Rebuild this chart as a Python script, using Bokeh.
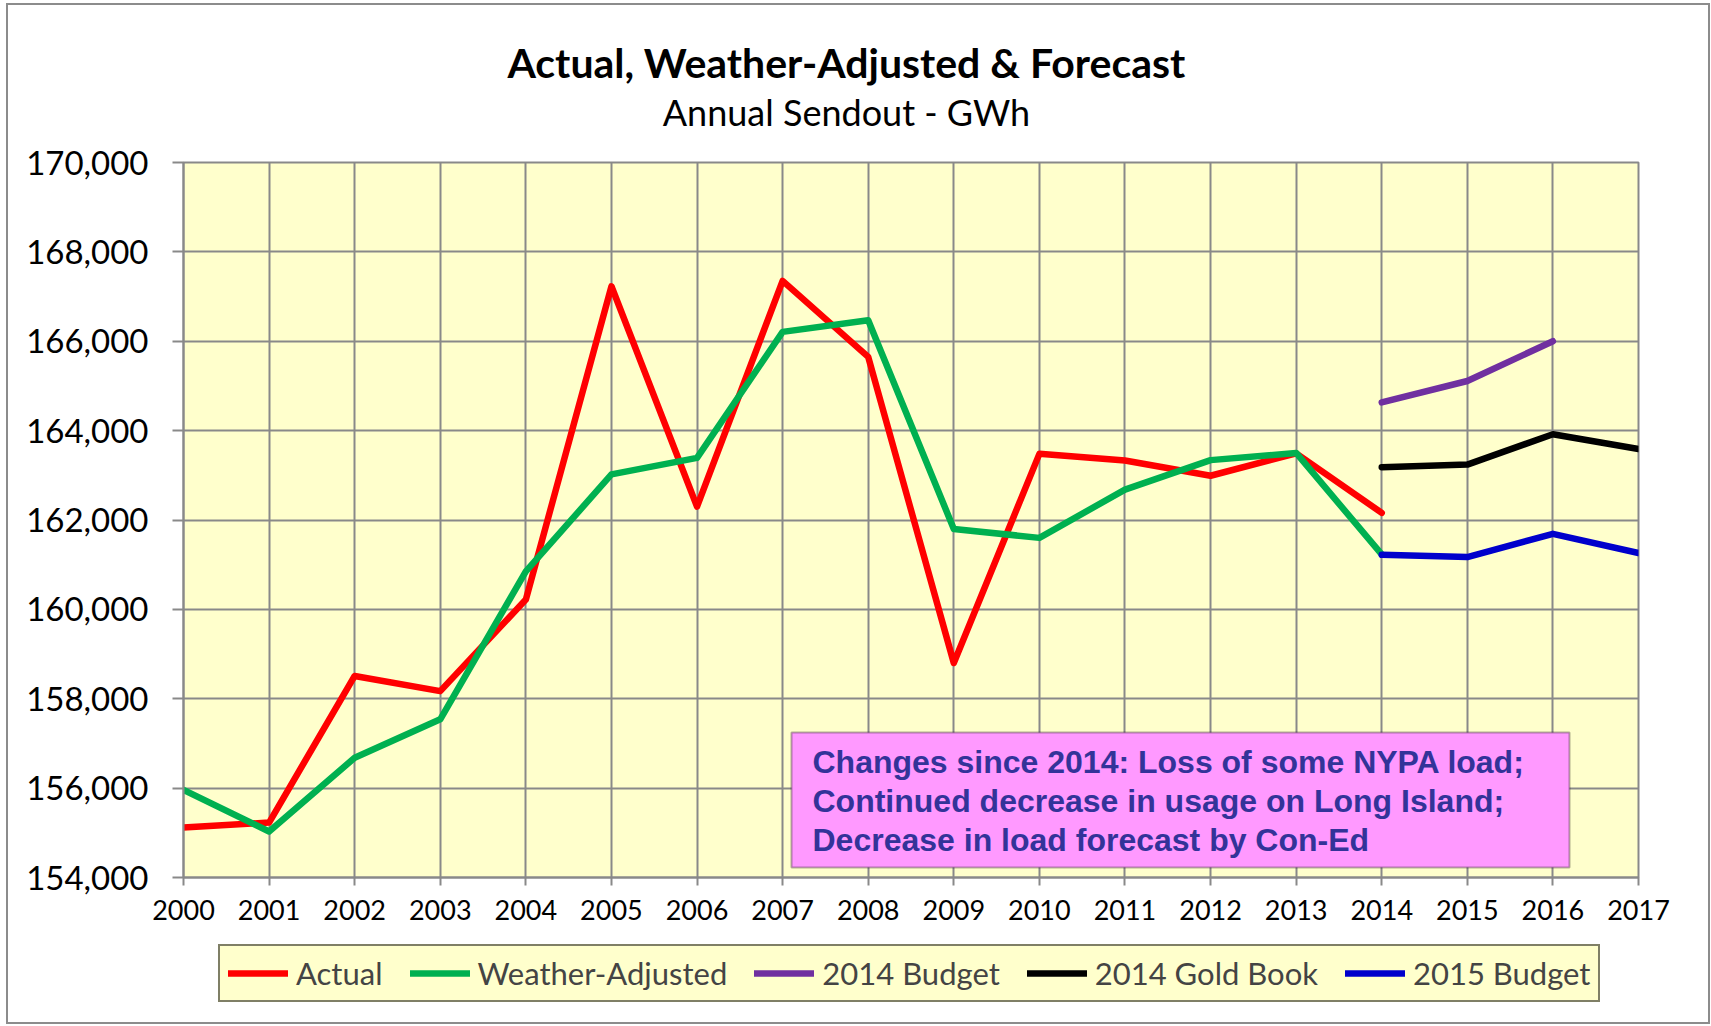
from bokeh.plotting import figure
from bokeh.layouts import column
from bokeh.models import (FixedTicker, NumeralTickFormatter, PrintfTickFormatter, Legend,
                          LegendItem, Label, BoxAnnotation, Range1d)
from bokeh.embed import file_html
from bokeh.resources import INLINE

# ---------------- data ----------------
years_hist = [2000, 2001, 2002, 2003, 2004, 2005, 2006, 2007, 2008, 2009, 2010, 2011, 2012, 2013, 2014]
actual = [155120, 155230, 158510, 158170, 160220, 167230, 162300, 167350, 165650, 158800,
          163480, 163330, 162990, 163490, 162160]
weather_adjusted = [155960, 155030, 156680, 157540, 160850, 163020, 163390, 166210, 166470, 161800,
                    161600, 162680, 163340, 163500, 161230]
years_b14 = [2014, 2015, 2016]
budget_2014 = [164630, 165110, 166000]
years_fc = [2014, 2015, 2016, 2017]
gold_book_2014 = [163180, 163240, 163920, 163590]
budget_2015 = [161220, 161170, 161690, 161260]

x_ticks = list(range(2000, 2018))
y_ticks = list(range(154000, 170001, 2000))

series_names = ["Actual", "Weather-Adjusted", "2014 Budget", "2014 Gold Book", "2015 Budget"]
series_colors = ["#FF0000", "#00B050", "#7030A0", "#000000", "#0000CC"]
series_data = [(years_hist, actual), (years_hist, weather_adjusted), (years_b14, budget_2014),
               (years_fc, gold_book_2014), (years_fc, budget_2015)]

title_text = "Actual, Weather-Adjusted & Forecast"
subtitle_text = "Annual Sendout - GWh"
note_lines = ["Changes since 2014: Loss of some NYPA load;",
              "Continued decrease in usage on Long Island;",
              "Decrease in load forecast by Con-Ed"]

FONT = "Lato"
GRID = "#898989"
W = 1700
LW = 6.5

# ---------------- title strip (frame is aligned with the main chart's frame) ----------------
pt = figure(width=W, height=137, output_backend="svg", toolbar_location=None,
            x_range=Range1d(0, 1), y_range=Range1d(0, 1), x_axis_type=None, y_axis_type=None,
            min_border=0, title=None)
pt.outline_line_color = None
pt.background_fill_color = "white"
pt.border_fill_color = "white"
pt.add_layout(Label(x=663, y=80, x_units="screen", y_units="screen", text=title_text,
                    text_font=FONT, text_font_style="bold", text_font_size="41px",
                    text_align="center", text_baseline="middle", text_color="black"))
pt.add_layout(Label(x=663, y=31, x_units="screen", y_units="screen", text=subtitle_text,
                    text_font=FONT, text_font_size="36px",
                    text_align="center", text_baseline="middle", text_color="black"))

# ---------------- main chart ----------------
p = figure(frame_width=1455, frame_height=715, output_backend="svg", toolbar_location=None,
           x_range=Range1d(2000, 2017), y_range=Range1d(154000, 170000),
           min_border_left=175, min_border_right=70, min_border_top=20, min_border_bottom=60,
           title=None)
p.background_fill_color = "#FFFFCC"
p.border_fill_color = "white"
p.outline_line_color = GRID
p.outline_line_width = 2

p.xaxis.ticker = FixedTicker(ticks=x_ticks)
p.xaxis.formatter = PrintfTickFormatter(format="%d")
p.yaxis.ticker = FixedTicker(ticks=y_ticks)
p.yaxis.formatter = NumeralTickFormatter(format="0,0")
for ax in (p.xaxis[0], p.yaxis[0]):
    ax.axis_line_color = GRID
    ax.axis_line_width = 2
    ax.major_tick_line_color = GRID
    ax.major_tick_line_width = 2
    ax.minor_tick_line_color = None
    ax.major_tick_in = 0
    ax.major_label_text_font = FONT
    ax.major_label_text_color = "black"
p.yaxis.major_tick_out = 11
p.yaxis.major_label_standoff = 24
p.yaxis.major_label_text_font_size = "33px"
p.xaxis.major_tick_out = 8
p.xaxis.major_label_standoff = 14
p.xaxis.major_label_text_font_size = "27px"

p.xgrid.ticker = FixedTicker(ticks=x_ticks)
p.ygrid.ticker = FixedTicker(ticks=y_ticks)
for g in (p.xgrid[0], p.ygrid[0]):
    g.grid_line_color = GRID
    g.grid_line_width = 2

for (xs, ys), c in zip(series_data, series_colors):
    p.line(xs, ys, line_color=c, line_width=LW, line_cap="round", line_join="round")

# annotation box
p.add_layout(BoxAnnotation(left=608, right=1386, top=145, bottom=10,
                           left_units="screen", right_units="screen", top_units="screen", bottom_units="screen",
                           fill_color="#FF99FF", fill_alpha=1, line_color="black", line_width=2, level="overlay"))
for i, t in enumerate(note_lines):
    p.add_layout(Label(x=629, y=116 - 39 * i, x_units="screen", y_units="screen", text=t,
                       text_font="Liberation Sans", text_font_style="bold", text_font_size="32px",
                       text_align="left", text_baseline="middle", text_color="#333399", level="overlay"))

# ---------------- legend strip (series drawn off-range, only their legend glyphs show) ----------------
pl = figure(width=W, height=85, output_backend="svg", toolbar_location=None,
            x_range=Range1d(0, 1), y_range=Range1d(0, 1), x_axis_type=None, y_axis_type=None,
            min_border=0, title=None)
pl.outline_line_color = None
pl.background_fill_color = "white"
pl.border_fill_color = "white"
items = []
for name, c, (xs, ys) in zip(series_names, series_colors, series_data):
    r = pl.line(xs, ys, line_color=c, line_width=LW, line_cap="round")
    items.append(LegendItem(label=name, renderers=[r]))
legend = Legend(items=items, orientation="horizontal", location=(35, 20))
legend.background_fill_color = "#FFFFCC"
legend.background_fill_alpha = 1
legend.border_line_color = "black"
legend.border_line_width = 2
legend.label_text_font = FONT
legend.label_text_font_size = "31px"
legend.glyph_width = 60
legend.glyph_height = 30
legend.label_height = 30
legend.label_standoff = 8
legend.spacing = 27
legend.padding = 8
legend.margin = 0
pl.add_layout(legend, "center")

layout = column(pt, p, pl, spacing=0,
                styles={"margin-left": "6px", "margin-top": "3px", "border": "2px solid #8C8C8C"})

open("out.html", "w").write(file_html(layout, INLINE))
